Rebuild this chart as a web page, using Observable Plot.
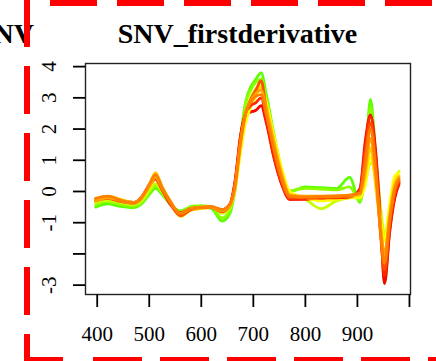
<!DOCTYPE html>
<html>
<head>
<meta charset="utf-8">
<script src="https://cdn.jsdelivr.net/npm/d3@7"></script>
<script src="https://cdn.jsdelivr.net/npm/@observablehq/plot@0.6"></script>
<style>
  html, body { margin: 0; padding: 0; background: #fff; }
  #wrap { position: relative; width: 436px; height: 361px; overflow: hidden; }
  #wrap > svg { position: absolute; left: 0; top: 0; }
  #overlay { pointer-events: none; }
</style>
</head>
<body>
<div id="wrap"></div>
<script>
// ---- Data ----
const title = "SNV_firstderivative";
const neighbourTitle = "NV";
const wavelengths = [397, 420, 445, 470, 485, 500, 512, 525, 540, 560, 580, 600, 620, 640, 655, 665, 675, 685, 695, 705, 715, 725, 740, 755, 770, 800, 830, 860, 885, 905, 915, 925, 935, 945, 952, 962, 972, 980];

const seriesNames = ["g1", "g2", "y1", "r3", "y2", "r2", "o1", "r1", "o2", "o3"];
const seriesColors = ["#5cff00", "#8cff00", "#c8ff00", "#ff0000", "#ffff00", "#ff2800", "#ffd000", "#ff5000", "#ffa500", "#ff8000"];

const g1 = [-0.50, -0.40, -0.48, -0.52, -0.40, -0.10, 0.10, -0.10, -0.40, -0.62, -0.50, -0.48, -0.55, -0.95, -0.70, 0.10, 1.60, 2.85, 3.35, 3.60, 3.80, 3.10, 1.80, 0.65, 0.00, 0.15, 0.12, 0.10, 0.45, -0.35, 0.80, 2.95, 1.20, -1.00, -2.95, -1.20, -0.10, 0.20];
const g2 = [-0.42, -0.32, -0.42, -0.47, -0.35, -0.02, 0.18, -0.05, -0.40, -0.65, -0.48, -0.45, -0.50, -0.85, -0.60, 0.10, 1.65, 2.80, 3.25, 3.50, 3.60, 2.95, 1.70, 0.60, 0.02, 0.10, 0.08, 0.05, 0.15, -0.30, 0.70, 2.70, 1.00, -0.90, -2.50, -1.00, 0.00, 0.30];
const y1 = [-0.35, -0.28, -0.36, -0.42, -0.30, 0.02, 0.25, 0.00, -0.38, -0.70, -0.55, -0.50, -0.50, -0.70, -0.50, 0.05, 1.35, 2.50, 3.00, 3.30, 3.45, 2.80, 1.60, 0.55, -0.05, -0.25, -0.55, -0.30, -0.20, -0.15, 0.30, 0.90, 0.85, -0.60, -1.40, -0.50, 0.40, 0.65];
const y2 = [-0.28, -0.18, -0.28, -0.36, -0.22, 0.15, 0.42, 0.10, -0.35, -0.80, -0.60, -0.52, -0.50, -0.60, -0.45, 0.10, 1.20, 2.20, 2.70, 3.05, 3.30, 2.85, 1.75, 0.70, 0.00, -0.20, -0.30, -0.25, -0.20, -0.20, 0.20, 1.10, 0.40, -0.90, -1.60, -0.40, 0.50, 0.60];
const o1 = [-0.25, -0.15, -0.25, -0.35, -0.20, 0.22, 0.60, 0.15, -0.30, -0.75, -0.60, -0.55, -0.52, -0.60, -0.42, 0.15, 1.40, 2.45, 2.95, 3.20, 3.35, 2.75, 1.60, 0.55, -0.10, -0.18, -0.18, -0.15, -0.15, -0.12, 0.50, 1.40, 0.20, -1.30, -2.10, -0.70, 0.30, 0.50];
const o2 = [-0.30, -0.20, -0.30, -0.38, -0.22, 0.15, 0.45, 0.10, -0.32, -0.70, -0.55, -0.50, -0.50, -0.62, -0.45, 0.15, 1.50, 2.50, 2.90, 3.15, 3.25, 2.60, 1.50, 0.50, -0.12, -0.15, -0.15, -0.15, -0.12, -0.08, 0.70, 1.70, 0.50, -1.20, -2.00, -0.80, 0.15, 0.45];
const o3 = [-0.22, -0.15, -0.28, -0.36, -0.20, 0.22, 0.55, 0.12, -0.30, -0.72, -0.55, -0.50, -0.48, -0.58, -0.40, 0.20, 1.55, 2.50, 2.85, 3.05, 3.10, 2.45, 1.35, 0.40, -0.15, -0.18, -0.16, -0.14, -0.12, -0.05, 0.90, 2.00, 0.70, -1.40, -2.30, -0.90, 0.10, 0.40];
const r1 = [-0.30, -0.22, -0.32, -0.38, -0.22, 0.18, 0.40, 0.05, -0.38, -0.78, -0.58, -0.52, -0.52, -0.65, -0.45, 0.25, 1.60, 2.50, 2.95, 3.25, 3.55, 2.60, 1.25, 0.30, -0.20, -0.20, -0.20, -0.18, -0.15, 0.00, 1.20, 2.20, 0.90, -1.50, -2.50, -1.00, 0.00, 0.35];
const r2 = [-0.28, -0.20, -0.30, -0.36, -0.20, 0.22, 0.48, 0.10, -0.35, -0.68, -0.55, -0.52, -0.50, -0.60, -0.42, 0.30, 1.70, 2.50, 2.75, 2.85, 3.00, 2.30, 1.10, 0.25, -0.25, -0.22, -0.20, -0.20, -0.18, 0.05, 1.40, 2.40, 1.10, -1.30, -2.70, -1.20, -0.10, 0.30];
const r3 = [-0.25, -0.18, -0.28, -0.35, -0.18, 0.20, 0.40, 0.05, -0.40, -0.70, -0.55, -0.52, -0.52, -0.58, -0.40, 0.35, 1.75, 2.45, 2.55, 2.60, 2.75, 2.20, 1.05, 0.20, -0.25, -0.25, -0.22, -0.22, -0.20, 0.10, 1.60, 2.45, 1.30, -1.10, -2.95, -1.30, -0.20, 0.25];

const seriesValues = {g1, g2, y1, y2, o1, o2, o3, r1, r2, r3};

const xTicks = [400, 500, 600, 700, 800, 900, 1000];
const xTickLabels = ["400", "500", "600", "700", "800", "900", ""];
const yTicks = [4, 3, 2, 1, 0, -1, -2, -3];
const yTickLabels = ["4", "3", "2", "1", "0", "-1", "", "-3"];

// ---- Build table ----
const rows = [];
seriesNames.forEach((name) => {
  seriesValues[name].forEach((v, i) => rows.push({s: name, w: wavelengths[i], v}));
});

const font = "'Liberation Serif', 'Times New Roman', serif";

const lineMarks = seriesNames.map((name, k) =>
  Plot.line(rows.filter(r => r.s === name), {
    x: "w", y: "v", stroke: seriesColors[k], strokeWidth: 2.8,
    curve: "monotone-x", strokeLinejoin: "round"
  })
);

const chart = Plot.plot({
  width: 436,
  height: 361,
  marginLeft: 85,
  marginRight: 26,
  marginTop: 63,
  marginBottom: 67,
  x: {domain: [377.5, 1002], label: null},
  y: {domain: [-3.3, 4.1], label: null},
  style: {fontFamily: font, fontSize: "21px", color: "#000", background: "transparent"},
  marks: [
    ...lineMarks,
    Plot.frame({stroke: "#222", strokeWidth: 1.4}),
    Plot.axisX({
      ticks: xTicks, tickSize: 13, tickPadding: 19, strokeWidth: 1.8,
      tickFormat: d => xTickLabels[xTicks.indexOf(d)], fontSize: 21, fill: "#000"
    }),
    Plot.axisY({ticks: yTicks, tickSize: 12, strokeWidth: 1.8, tickFormat: () => ""}),
    Plot.text(yTicks, {
      y: d => d, text: (d, i) => yTickLabels[i], frameAnchor: "left",
      rotate: -90, dx: -36.5, textAnchor: "middle", lineAnchor: "middle",
      fontSize: 21, fill: "#000"
    })
  ]
});
document.getElementById("wrap").appendChild(chart);

// ---- Overlay: title, neighbour title fragment, dashed red panel border ----
const ns = "http://www.w3.org/2000/svg";
const ov = document.createElementNS(ns, "svg");
ov.setAttribute("id", "overlay");
ov.setAttribute("width", 436);
ov.setAttribute("height", 361);
function el(tag, attrs, text) {
  const e = document.createElementNS(ns, tag);
  for (const k in attrs) e.setAttribute(k, attrs[k]);
  if (text != null) e.textContent = text;
  ov.appendChild(e);
  return e;
}
el("text", {x: 237.5, y: 43, "text-anchor": "middle", "font-family": font, "font-weight": "bold", "font-size": 28, fill: "#000"}, title);
el("text", {x: 34, y: 43, "text-anchor": "end", "font-family": font, "font-weight": "bold", "font-size": 28, fill: "#000"}, neighbourTitle);
const red = "#ff0000";
el("line", {x1: 27, y1: -1, x2: 27, y2: 361, stroke: red, "stroke-width": 6, "stroke-dasharray": "48 19"});
el("line", {x1: 50, y1: 3, x2: 436, y2: 3, stroke: red, "stroke-width": 6, "stroke-dasharray": "47 20"});
el("line", {x1: 24, y1: 360, x2: 63, y2: 360, stroke: red, "stroke-width": 6});
el("line", {x1: 93, y1: 360, x2: 436, y2: 360, stroke: red, "stroke-width": 6, "stroke-dasharray": "49 18"});
document.getElementById("wrap").appendChild(ov);
</script>
</body>
</html>
